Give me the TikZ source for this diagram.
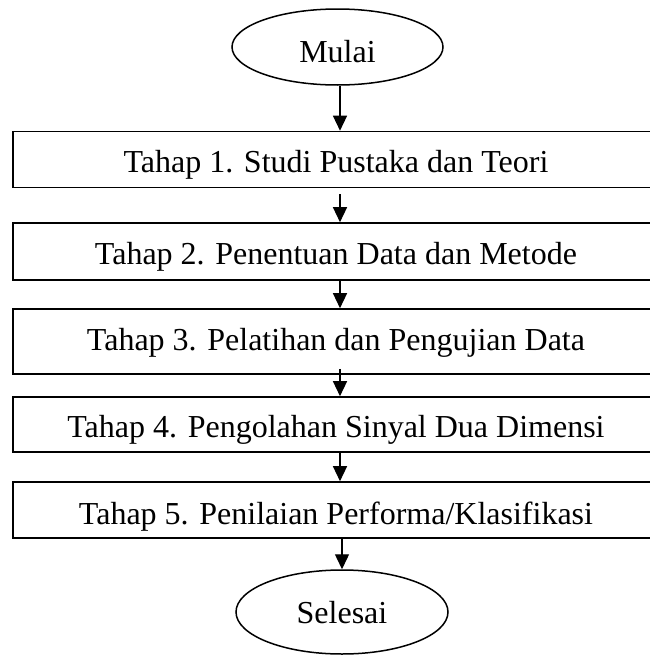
\documentclass[tikz,border=0pt]{standalone}
\usepackage{fontspec}
\setmainfont{Liberation Serif}
\usetikzlibrary{arrows.meta,shapes.geometric}
\begin{document}
\begin{tikzpicture}[x=1pt,y=-1pt,
  stepbox/.style={draw,line width=1.6pt,rectangle,minimum width=646pt,inner sep=0pt},
  term/.style={draw,line width=1.5pt,ellipse,inner sep=0pt},
  lbl/.style={anchor=base,inner sep=0pt,font=\fontsize{32}{36}\selectfont},
  arr/.style={line width=1.4pt,-{Triangle[length=15pt,width=14pt]}}]
\useasboundingbox (0,0) rectangle (650,656);
\coordinate (ax) at (340,0);
\node[term,minimum width=211pt,minimum height=76pt] (m) at (337.5,47) {};
\node[lbl] (mt) at (337.5,62) {Mulai};
\node[stepbox,minimum height=56pt] (b1) at (336,159.5) {};
\node[lbl] (t1) at (336,172) {Tahap 1. Studi Pustaka dan Teori};
\node[stepbox,minimum height=57pt] (b2) at (336,251.5) {};
\node[lbl] (t2) at (336,264) {Tahap 2. Penentuan Data dan Metode};
\node[stepbox,minimum height=65pt] (b3) at (336,341.5) {};
\node[lbl] (t3) at (336,350) {Tahap 3. Pelatihan dan Pengujian Data};
\node[stepbox,minimum height=55pt] (b4) at (336,424.5) {};
\node[lbl] (t4) at (336,437) {Tahap 4. Pengolahan Sinyal Dua Dimensi};
\node[stepbox,minimum height=56pt] (b5) at (336,510) {};
\node[lbl] (t5) at (336,524) {Tahap 5. Penilaian Performa/Klasifikasi};
\node[term,minimum width=212pt,minimum height=84pt] (s) at (342,612) {};
\node[lbl] (st) at (342,623) {Selesai};
\draw[arr] (m.south -| ax) -- (b1.north -| ax);
\draw[arr] ([yshift=-6pt]b1.south -| ax) -- (b2.north -| ax);
\draw[arr] (b2.south -| ax) -- (b3.north -| ax);
\draw[arr] ([yshift=6pt]b3.south -| ax) -- (b4.north -| ax);
\draw[arr] (b4.south -| ax) -- (b5.north -| ax);
\draw[arr] (b5.south -| s) -- (s.north);
\end{tikzpicture}
\end{document}
